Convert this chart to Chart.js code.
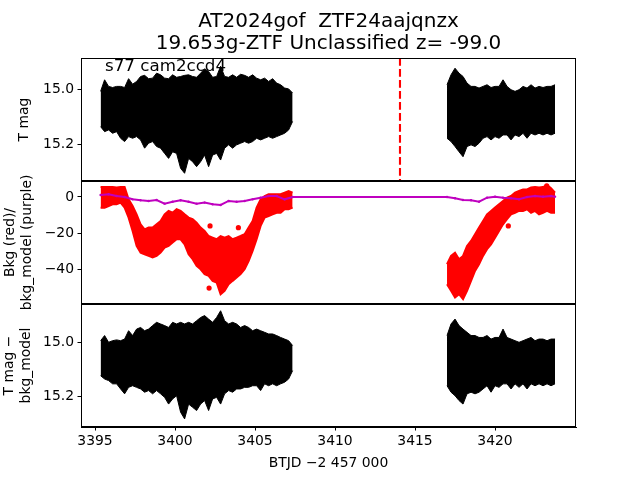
<!DOCTYPE html>
<html><head><meta charset="utf-8">
<script src="https://cdn.jsdelivr.net/npm/chart.js@4/dist/chart.umd.min.js"></script>
<style>
html,body{margin:0;padding:0;background:#fff;}
canvas{position:absolute;left:0;top:0;}
</style>
</head><body>
<canvas id="c1" width="640" height="480"></canvas>
<canvas id="c2" width="640" height="480"></canvas>
<canvas id="c3" width="640" height="480"></canvas>
<script>
// ---------------- data ----------------
const titleLines = ['AT2024gof  ZTF24aajqnzx', '19.653g-ZTF Unclassified z= -99.0'];
const sectorLabel = 's77 cam2ccd4';
const eventTime = 3414.06;

const seg1Time = [3395.35,3395.6,3395.85,3396.1,3396.35,3396.6,3396.85,3397.1,3397.35,3397.6,3397.85,3398.1,3398.35,3398.6,3398.85,3399.1,3399.35,3399.6,3399.85,3400.1,3400.35,3400.6,3400.85,3401.1,3401.35,3401.6,3401.85,3402.1,3402.35,3402.6,3402.85,3403.1,3403.35,3403.6,3403.85,3404.1,3404.35,3404.6,3404.85,3405.1,3405.35,3405.6,3405.85,3406.1,3406.35,3406.6,3406.85,3407.1,3407.35];
const seg2Time = [3417.0,3417.25,3417.5,3417.75,3418.0,3418.25,3418.5,3418.75,3419.0,3419.25,3419.5,3419.75,3420.0,3420.25,3420.5,3420.75,3421.0,3421.25,3421.5,3421.75,3422.0,3422.25,3422.5,3422.75,3423.0,3423.25,3423.5,3423.75];

// T mag: upper (bright) and lower (faint) extent of the plotted points
const magUpper1 = [15.007,14.965,14.989,14.993,14.989,14.989,14.993,14.961,14.981,14.971,14.953,14.949,14.961,14.959,14.941,14.947,14.959,14.961,14.947,14.956,14.953,14.949,14.947,14.953,14.956,14.941,14.925,14.935,14.956,14.953,14.916,14.953,14.956,14.947,14.956,14.945,14.949,14.956,14.947,14.959,14.965,14.959,14.971,14.961,14.977,14.983,14.995,14.998,15.013];
const magLower1 = [15.135,15.153,15.147,15.159,15.153,15.177,15.189,15.171,15.177,15.171,15.183,15.213,15.195,15.189,15.207,15.213,15.232,15.250,15.226,15.232,15.286,15.304,15.250,15.262,15.280,15.262,15.238,15.280,15.238,15.232,15.256,15.213,15.201,15.213,15.201,15.195,15.189,15.195,15.189,15.177,15.183,15.177,15.171,15.177,15.171,15.165,15.159,15.147,15.116];
const magUpper2 = [14.983,14.947,14.923,14.941,14.953,14.977,14.989,14.989,14.995,14.989,14.983,14.993,14.989,14.989,14.965,14.989,15.001,15.007,15.001,14.989,14.995,14.983,14.995,14.989,14.993,14.989,14.989,14.983];
const magLower2 = [15.177,15.189,15.207,15.226,15.244,15.207,15.201,15.207,15.195,15.177,15.171,15.183,15.171,15.177,15.165,15.165,15.183,15.165,15.171,15.159,15.177,15.159,15.165,15.159,15.165,15.159,15.165,15.159];

// Background (red): upper and lower extent
const bkgUpper1 = [5.5,5.5,5.5,5.5,5.2,5.5,5.5,-1.3,-5.0,-9.6,-15.1,-17.9,-16.9,-16.9,-15.1,-13.3,-9.6,-7.7,-8.7,-6.8,-7.7,-9.6,-11.4,-12.3,-14.2,-16.9,-18.8,-21.6,-22.5,-23.4,-21.6,-22.5,-21.6,-23.4,-22.5,-21.6,-20.6,-16.9,-13.3,-5.9,-1.3,0.5,1.5,1.5,1.5,1.5,2.4,3.3,2.4];
const bkgLower1 = [-5.9,-5.9,-5.0,-4.05,-4.05,-3.1,-5.9,-11.4,-18.8,-27.1,-30.8,-31.7,-32.6,-33.5,-32.6,-30.8,-28.0,-27.1,-25.2,-23.4,-23.4,-26.2,-31.7,-34.4,-38.1,-40.0,-42.7,-43.6,-46.4,-47.3,-53.8,-51.9,-48.3,-46.4,-44.6,-42.7,-40.0,-35.4,-29.8,-23.4,-16.0,-11.4,-10.5,-9.6,-8.7,-8.7,-6.8,-6.8,-5.9];
const bkgUpper2 = [-37.2,-32.6,-30.8,-34.4,-32.6,-27.1,-24.3,-20.6,-16.9,-13.3,-9.6,-7.7,-5.9,-4.05,-2.2,-0.4,0.55,2.4,3.3,4.2,4.2,5.2,5.5,5.2,5.5,6.6,4.8,2.4];
const bkgLower2 = [-48.3,-51.9,-55.6,-53.8,-56.5,-51.9,-46.4,-40.9,-37.2,-32.6,-28.9,-26.2,-22.5,-18.8,-15.1,-12.3,-9.6,-8.7,-7.7,-7.7,-6.8,-8.7,-7.7,-9.6,-8.7,-7.7,-8.7,-8.7];
const bkgOutlierTime = [3402.13,3402.6,3403.96,3402.19,3420.83,3423.23];
const bkgOutlierValue = [-50.4,-25.2,-17.0,-16.0,-16.0,6.1];

// Background model (purple)
const modelTime = [3395.35,3395.85,3396.35,3396.85,3397.35,3397.85,3398.35,3398.85,3399.35,3399.85,3400.35,3400.85,3401.35,3401.85,3402.35,3402.85,3403.35,3403.85,3404.35,3404.85,3405.35,3405.85,3406.35,3406.85,3407.35,3417.0,3417.5,3418.0,3418.5,3419.0,3419.5,3420.0,3420.5,3421.0,3421.5,3422.0,3422.5,3423.0,3423.5,3423.75];
const modelValue = [1.1,1.5,0.55,0,-1.3,-1.84,-2.2,-1.7,-3.7,-2.6,-1.8,-2.6,-3.7,-3.1,-4.05,-4.4,-2.2,-2.6,-2.2,-1.3,-0.4,0.55,0.55,-1.3,0,0,-0.74,-1.66,-1.84,-2.58,-0.37,0.18,-0.37,-0.74,-1.29,0,0.55,0.18,0.55,0.18];

// T mag - bkg_model
const detUpper1 = [14.994,14.975,15.000,14.994,14.991,14.994,14.988,14.957,14.975,14.951,14.945,14.957,14.951,14.938,14.926,14.932,14.938,14.945,14.926,14.932,14.926,14.932,14.926,14.932,14.920,14.908,14.901,14.914,14.926,14.908,14.883,14.920,14.932,14.926,14.932,14.945,14.938,14.945,14.957,14.951,14.957,14.963,14.969,14.969,14.975,14.982,14.988,14.994,15.012];
const detLower1 = [15.124,15.136,15.142,15.154,15.154,15.173,15.191,15.167,15.161,15.167,15.173,15.185,15.179,15.191,15.179,15.191,15.204,15.229,15.210,15.198,15.259,15.284,15.229,15.241,15.253,15.229,15.216,15.253,15.210,15.204,15.229,15.191,15.179,15.185,15.173,15.173,15.167,15.167,15.161,15.161,15.179,15.154,15.161,15.154,15.161,15.154,15.148,15.136,15.105];
const detUpper2 = [14.975,14.932,14.914,14.938,14.951,14.963,14.975,14.975,14.982,14.982,14.975,14.988,14.982,14.982,14.951,14.982,14.988,14.994,15.000,14.994,14.988,14.982,14.994,14.988,14.988,14.994,14.988,14.988];
const detLower2 = [15.161,15.185,15.198,15.216,15.229,15.191,15.185,15.191,15.185,15.173,15.161,15.185,15.161,15.167,15.154,15.154,15.173,15.154,15.167,15.154,15.173,15.154,15.161,15.154,15.161,15.154,15.161,15.154];

// axes
const xRange = [3394.125, 3425.06];
const xTicks = [3395, 3400, 3405, 3410, 3415, 3420];
const magRange = [14.886, 15.332];
const bkgRange = [-59.2, 8.84];
const detRange = [14.858, 15.314];
const magTicks = [15.0, 15.2];
const bkgTicks = [0, -20, -40];
const xTitle = 'BTJD \u22122 457 000';

// ---------------- rendering ----------------
Chart.defaults.font.family = 'DejaVu Sans';
Chart.defaults.font.size = 13.9;
Chart.defaults.color = '#000';

const xy = (t, v) => t.map((x, i) => ({x: x, y: v[i]}));
const fmtMag = v => Number(v).toFixed(1);
const fmtInt = v => (v < 0 ? '\u2212' + Math.abs(v) : String(v));

function yAxis(range, ticks, reverse, title, titlePad, fmt) {
  return {
    type: 'linear', min: range[0], max: range[1], reverse: reverse,
    afterFit(s) { s.width = 81; },
    afterBuildTicks(s) { s.ticks = ticks.map(v => ({value: v})); },
    grid: {display: true, drawOnChartArea: false, drawTicks: true, tickLength: 3.5, tickWidth: 1, tickColor: '#000'},
    border: {display: true, color: '#000', width: 1},
    ticks: {color: '#000', padding: 3.5, autoSkip: false, callback: v => fmt(v)},
    title: {display: true, text: title, color: '#000', padding: {top: titlePad, bottom: 0}}
  };
}
function xAxisHidden() {
  return {type: 'linear', min: xRange[0], max: xRange[1], display: false};
}
const frame = {
  id: 'frame',
  afterDraw(chart) {
    const a = chart.chartArea, ctx = chart.ctx;
    ctx.save();
    ctx.strokeStyle = '#000'; ctx.lineWidth = 1;
    ctx.strokeRect(Math.round(a.left) + 0.5, Math.round(a.top) + 0.5, Math.round(a.right - a.left) - 1, Math.round(a.bottom - a.top) - 1);
    ctx.restore();
  }
};
const band = (data, color, fill, bw) => ({
  data: data, borderColor: color, backgroundColor: color, fill: fill,
  borderWidth: bw, pointRadius: 0, tension: 0
});
const baseOpts = (padding, scales) => ({
  responsive: false, animation: false, devicePixelRatio: 1, events: [],
  layout: {padding: padding},
  plugins: {legend: {display: false}, tooltip: {enabled: false}, title: {display: false}},
  scales: scales
});

// Panel 1: T mag
const annot1 = {
  id: 'annot1',
  afterDatasetsDraw(chart) {
    const ctx = chart.ctx, a = chart.chartArea;
    const x = chart.scales.x.getPixelForValue(eventTime);
    ctx.save();
    ctx.beginPath(); ctx.rect(a.left, a.top, a.right - a.left, a.bottom - a.top); ctx.clip();
    ctx.strokeStyle = '#ff0000'; ctx.lineWidth = 2.1; ctx.setLineDash([7.7, 3.3]);
    ctx.beginPath(); ctx.moveTo(x, a.top); ctx.lineTo(x, a.bottom); ctx.stroke();
    ctx.restore();
    ctx.save();
    ctx.fillStyle = '#000';
    ctx.textBaseline = 'alphabetic';
    ctx.font = '16.7px "DejaVu Sans"';
    ctx.textAlign = 'left';
    ctx.fillText(sectorLabel, 105, 70.5);
    ctx.font = '20px "DejaVu Sans"';
    ctx.textAlign = 'center';
    const cx = (a.left + a.right) / 2;
    ctx.fillText(titleLines[0], cx, 27);
    ctx.fillText(titleLines[1], cx, 49);
    ctx.restore();
  }
};
new Chart(document.getElementById('c1'), {
  type: 'line',
  data: {datasets: [
    band(xy(seg1Time, magUpper1), '#000', '+1', 1),
    band(xy(seg1Time, magLower1), '#000', false, 1),
    band(xy(seg2Time, magUpper2), '#000', '+1', 1),
    band(xy(seg2Time, magLower2), '#000', false, 1)
  ]},
  options: baseOpts({top: 58, bottom: 299, left: 0, right: 64}, {
    x: xAxisHidden(),
    y: yAxis(magRange, magTicks, true, 'T mag', 16.5, fmtMag)
  }),
  plugins: [frame, annot1]
});

// Panel 2: background
new Chart(document.getElementById('c2'), {
  type: 'line',
  data: {datasets: [
    {data: xy(modelTime, modelValue), borderColor: '#bf00bf', backgroundColor: '#bf00bf', borderWidth: 2, pointRadius: 1.2, pointBorderWidth: 0, tension: 0, fill: false},
    {type: 'scatter', data: xy(bkgOutlierTime, bkgOutlierValue), backgroundColor: '#ff0000', borderColor: '#ff0000', pointRadius: 2.6, pointBorderWidth: 0, showLine: false},
    band(xy(seg1Time, bkgUpper1), '#ff0000', '+1', 2),
    band(xy(seg1Time, bkgLower1), '#ff0000', false, 2),
    band(xy(seg2Time, bkgUpper2), '#ff0000', '+1', 2),
    band(xy(seg2Time, bkgLower2), '#ff0000', false, 2)
  ]},
  options: baseOpts({top: 181, bottom: 176, left: 0, right: 64}, {
    x: xAxisHidden(),
    y: yAxis(bkgRange, bkgTicks, false, ['Bkg (red)/', 'bkg_model (purple)'], 2.5, fmtInt)
  }),
  plugins: [frame]
});

// Panel 3: T mag - bkg_model
new Chart(document.getElementById('c3'), {
  type: 'line',
  data: {datasets: [
    band(xy(seg1Time, detUpper1), '#000', '+1', 1),
    band(xy(seg1Time, detLower1), '#000', false, 1),
    band(xy(seg2Time, detUpper2), '#000', '+1', 1),
    band(xy(seg2Time, detLower2), '#000', false, 1)
  ]},
  options: baseOpts({top: 304, bottom: 0, left: 0, right: 64}, {
    x: {
      type: 'linear', min: xRange[0], max: xRange[1],
      afterFit(s) { s.height = 53; },
      afterBuildTicks(s) { s.ticks = xTicks.map(v => ({value: v})); },
      grid: {display: true, drawOnChartArea: false, drawTicks: true, tickLength: 3.5, tickWidth: 1, tickColor: '#000'},
      border: {display: true, color: '#000', width: 1},
      ticks: {color: '#000', padding: 3, autoSkip: false, maxRotation: 0, callback: v => String(v)},
      title: {display: true, text: xTitle, color: '#000', padding: {top: 0, bottom: 8.5}}
    },
    y: yAxis(detRange, magTicks, true, ['T mag \u2212', 'bkg_model'], 1, fmtMag)
  }),
  plugins: [frame]
});
</script>
</body></html>
